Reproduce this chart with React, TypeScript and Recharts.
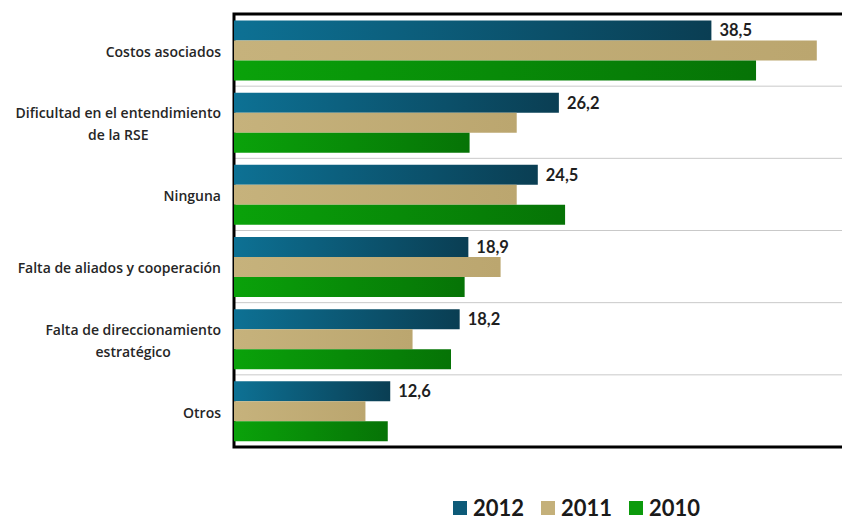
import React from 'react';
import { BarChart, Bar, XAxis, YAxis, CartesianGrid, ReferenceArea, Legend, LabelList } from 'recharts';

const CATEGORIES = [
  'Costos asociados',
  'Dificultad en el entendimiento\nde la RSE',
  'Ninguna',
  'Falta de aliados y cooperación',
  'Falta de direccionamiento\nestratégico',
  'Otros',
];
const Y2012 = [38.5, 26.2, 24.5, 18.9, 18.2, 12.6];
const Y2011 = [47.0, 22.8, 22.8, 21.5, 14.4, 10.6];
const Y2010 = [42.1, 19.0, 26.7, 18.6, 17.5, 12.4];
const SERIES = ['2012', '2011', '2010'];
const X_MAX = 50;

const COLORS: Record<string, [string, string]> = {
  '2012': ['#0d7194', '#0a3e53'],
  '2011': ['#c6b27c', '#bba66f'],
  '2010': ['#0aa20a', '#067306'],
};
const LEGEND_COLORS: Record<string, string> = { '2012': '#0d5a78', '2011': '#c4b07a', '2010': '#0c9a0c' };

const data = CATEGORIES.map((name, i) => ({ name, '2012': Y2012[i], '2011': Y2011[i], '2010': Y2010[i] }));

const FONT = 'Lato, "Open Sans", sans-serif';
const TICK_FAMILY = '"Open Sans", sans-serif';
const TICK_FONT = `600 14px "Open Sans"`;

let ctx: CanvasRenderingContext2D | null = null;
const measure = (s: string) => {
  if (!ctx) ctx = document.createElement('canvas').getContext('2d');
  if (!ctx) return s.length * 7;
  ctx.font = TICK_FONT;
  return ctx.measureText(s).width;
};

// category labels: right aligned block, lines centered on each other
const CategoryTick = ({ x, y, payload }: any) => {
  const lines = String(payload.value).split('\n');
  const right = x - 5;
  const lineH = 22;
  const widest = Math.max(...lines.map(measure));
  const cx = right - widest / 2;
  const y0 = y - ((lines.length - 1) * lineH) / 2 + 2;
  return (
    <text textAnchor="middle" fontFamily={TICK_FAMILY} fontWeight={600} fontSize={14} fill="#262626">
      {lines.map((l, i) => (
        <tspan key={i} x={cx} y={y0 + i * lineH} dy="0.35em">{l}</tspan>
      ))}
    </text>
  );
};

const LegendContent = ({ payload }: any) => {
  const items = [...(payload || [])].sort((a: any, b: any) => SERIES.indexOf(a.value) - SERIES.indexOf(b.value));
  return (
    <div style={{ display: 'flex', fontFamily: FONT, fontWeight: 700, fontSize: 22, lineHeight: '24px', color: '#1a1a1a' }}>
      {items.map((p: any) => (
        <div key={p.value} style={{ display: 'flex', alignItems: 'center', marginRight: 17 }}>
          <span style={{ display: 'inline-block', width: 14, height: 14, background: LEGEND_COLORS[p.value], marginRight: 6 }} />
          {p.value}
        </div>
      ))}
    </div>
  );
};

export default function App() {
  return (
    <div style={{ position: 'absolute', left: 0, top: 0, width: 842, height: 521, overflow: 'hidden', background: '#fff' }}>
      <BarChart
        width={860}
        height={521}
        data={data}
        layout="vertical"
        margin={{ top: 14, right: 6, bottom: 74, left: 0 }}
        barCategoryGap="9%"
        barGap={0}
      >
        <defs>
          {SERIES.map((s) => (
            <linearGradient key={s} id={`g${s}`} x1="0" y1="0" x2="1" y2="0">
              <stop offset="0%" stopColor={COLORS[s][0]} />
              <stop offset="100%" stopColor={COLORS[s][1]} />
            </linearGradient>
          ))}
        </defs>
        <CartesianGrid
          vertical={false}
          stroke="#c9c9c9"
          horizontalCoordinatesGenerator={({ offset }: any) =>
            CATEGORIES.slice(1).map((_, i) => offset.top + ((i + 1) * offset.height) / CATEGORIES.length)
          }
        />
        <XAxis type="number" domain={[0, X_MAX]} hide />
        <YAxis
          type="category"
          dataKey="name"
          width={234}
          axisLine={false}
          tickLine={false}
          interval={0}
          tick={<CategoryTick />}
        />
        {SERIES.map((s) => (
          <Bar key={s} dataKey={s} fill={`url(#g${s})`} isAnimationActive={false}>
            {s === '2012' && (
              <LabelList
                dataKey={s}
                position="right"
                offset={8}
                formatter={(v: any) => String(v).replace('.', ',')}
                style={{ fontFamily: FONT, fontWeight: 700, fontSize: 16.5, fill: '#1f1f1f' }}
              />
            )}
          </Bar>
        ))}
        <ReferenceArea x1={0} x2={X_MAX} stroke="#000" strokeWidth={3} fill="none" fillOpacity={0} />
        <Legend
          layout="horizontal"
          verticalAlign="middle"
          align="center"
          content={<LegendContent />}
          wrapperStyle={{ top: 496, left: 453, width: 320 }}
        />
      </BarChart>
    </div>
  );
}
